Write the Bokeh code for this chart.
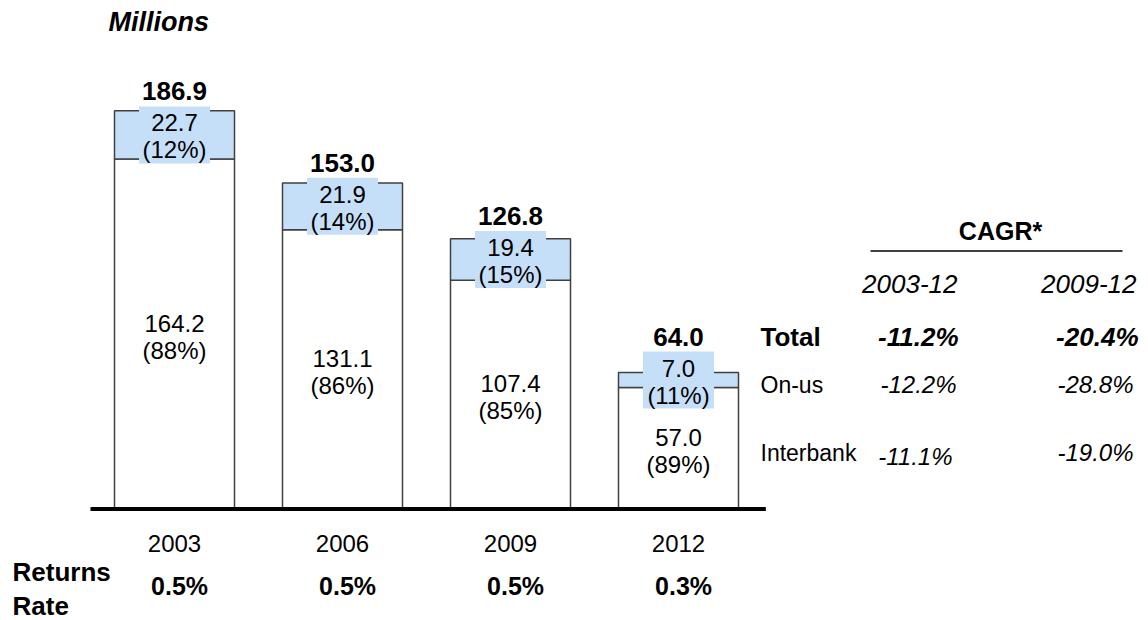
from bokeh.plotting import figure
from bokeh.models import Range1d
from bokeh.embed import file_html
from bokeh.resources import INLINE
from bokeh.core.properties import value

# ---------------- data ----------------
years = ["2003", "2006", "2009", "2012"]
interbank = [164.2, 131.1, 107.4, 57.0]
onus = [22.7, 21.9, 19.4, 7.0]
totals = [186.9, 153.0, 126.8, 64.0]
interbank_pct = ["(88%)", "(86%)", "(85%)", "(89%)"]
onus_pct = ["(12%)", "(14%)", "(15%)", "(11%)"]
returns_rate = ["0.5%", "0.5%", "0.5%", "0.3%"]
cagr_rows = ["Total", "On-us", "Interbank"]
cagr_headers = ["2003-12", "2009-12"]
cagr_2003_12 = ["-11.2%", "-12.2%", "-11.1%"]
cagr_2009_12 = ["-20.4%", "-28.8%", "-19.0%"]

# ---------------- layout ----------------
W, H = 1148, 620
X0, STEP = 174.0, 168.0      # px of first bar centre, spacing
BASE, K = 508.5, 2.131       # px of baseline, px per million
BOX_W, BOX_H = 71, 57        # label background box, px


def X(px):
    return (px - X0) / STEP


def Y(py):
    return (BASE - py) / K


FONT = value("Liberation Sans")
BLUE = "#C6DFF8"
EDGE = "#404040"

p = figure(width=W, height=H, output_backend="svg", toolbar_location=None,
           x_range=Range1d(X(0), X(W)), y_range=Range1d(Y(H), Y(0)),
           min_border=0, min_border_left=0, min_border_right=0,
           min_border_top=0, min_border_bottom=0)
p.xaxis.visible = False
p.yaxis.visible = False
p.grid.visible = False
p.outline_line_color = None
p.background_fill_color = "white"
p.border_fill_color = "white"

idx = list(range(len(years)))
BW = 120 / STEP

# bars
p.vbar(x=idx, width=BW, bottom=0, top=interbank, fill_color="white",
       line_color=EDGE, line_width=1.5)
p.vbar(x=idx, width=BW, bottom=interbank, top=totals, fill_color=BLUE,
       line_color=EDGE, line_width=1.5)

# baseline
p.segment(x0=[idx[0] - 0.5], y0=[0], x1=[idx[-1] + 0.52], y1=[0],
          line_color="black", line_width=4)

# label backgrounds for on-us segment
on_mid = [ib + o / 2 for ib, o in zip(interbank, onus)]
ib_mid = [ib / 2 for ib in interbank]
p.rect(x=idx, y=on_mid, width=BOX_W, height=BOX_H, width_units="screen",
       height_units="screen", fill_color=BLUE, line_color=None)

common = dict(text_font=FONT, text_align="center", text_baseline="middle",
              text_color="black")

# on-us labels
p.text(x=idx, y=on_mid, text=[f"{v:.1f}" for v in onus], y_offset=-12,
       text_font_size="24px", **common)
p.text(x=idx, y=on_mid, text=onus_pct, y_offset=15,
       text_font_size="24px", **common)
# interbank labels
p.text(x=idx, y=ib_mid, text=[f"{v:.1f}" for v in interbank], y_offset=-11,
       text_font_size="24px", **common)
p.text(x=idx, y=ib_mid, text=interbank_pct, y_offset=16,
       text_font_size="24px", **common)

# totals: sit above the bar or above the label box, whichever is higher
total_anchor = [max(t, m + (BOX_H / 2) / K) for t, m in zip(totals, on_mid)]
p.text(x=idx, y=total_anchor, text=[f"{v:.1f}" for v in totals], y_offset=-15,
       text_font_size="26px", text_font_style="bold", **common)

# year labels
p.text(x=idx, y=[0] * len(idx), text=years, y_offset=34,
       text_font_size="24px", **common)
# returns rate values
p.text(x=[i + 0.03 for i in idx], y=[0] * len(idx), text=returns_rate,
       y_offset=77, text_font_size="25px", text_font_style="bold", **common)

# left-side texts
p.text(x=[X(12), X(12)], y=[Y(571), Y(605)], text=["Returns", "Rate"],
       text_font=FONT, text_font_size="26px", text_font_style="bold",
       text_align="left", text_baseline="middle")
p.text(x=[X(108)], y=[Y(21)], text=["Millions"], text_font=FONT,
       text_font_size="27px", text_font_style="bold italic", text_align="left",
       text_baseline="middle")

# CAGR table
p.text(x=[X(1000)], y=[Y(230)], text=["CAGR*"], text_font=FONT,
       text_font_size="25px", text_font_style="bold", text_align="center",
       text_baseline="middle")
p.segment(x0=[X(870)], y0=[Y(250.5)], x1=[X(1122)], y1=[Y(250.5)],
          line_color="black", line_width=1.5)
p.text(x=[X(957), X(1136)], y=[Y(283), Y(283)], text=cagr_headers,
       text_font=FONT, text_font_size="26px", text_font_style="italic",
       text_align="right", text_baseline="middle")

row_y = [336, 384, 452]
p.text(x=[X(760)], y=[Y(row_y[0])], text=[cagr_rows[0]], text_font=FONT,
       text_font_size="26px", text_font_style="bold", text_align="left",
       text_baseline="middle")
p.text(x=[X(760)] * 2, y=[Y(row_y[1]), Y(row_y[2])], text=cagr_rows[1:],
       text_font=FONT, text_font_size="23px", text_align="left",
       text_baseline="middle")

p.text(x=[X(958), X(1138)], y=[Y(row_y[0])] * 2,
       text=[cagr_2003_12[0], cagr_2009_12[0]], text_font=FONT,
       text_font_size="26px", text_font_style="bold italic",
       text_align="right", text_baseline="middle")
p.text(x=[X(956), X(952)], y=[Y(row_y[1]), Y(row_y[2] + 4)],
       text=cagr_2003_12[1:], text_font=FONT, text_font_size="24px",
       text_font_style="italic", text_align="right", text_baseline="middle")
p.text(x=[X(1133), X(1133)], y=[Y(row_y[1]), Y(row_y[2])],
       text=cagr_2009_12[1:], text_font=FONT, text_font_size="24px",
       text_font_style="italic", text_align="right", text_baseline="middle")

open("out.html", "w").write(file_html(p, INLINE))
